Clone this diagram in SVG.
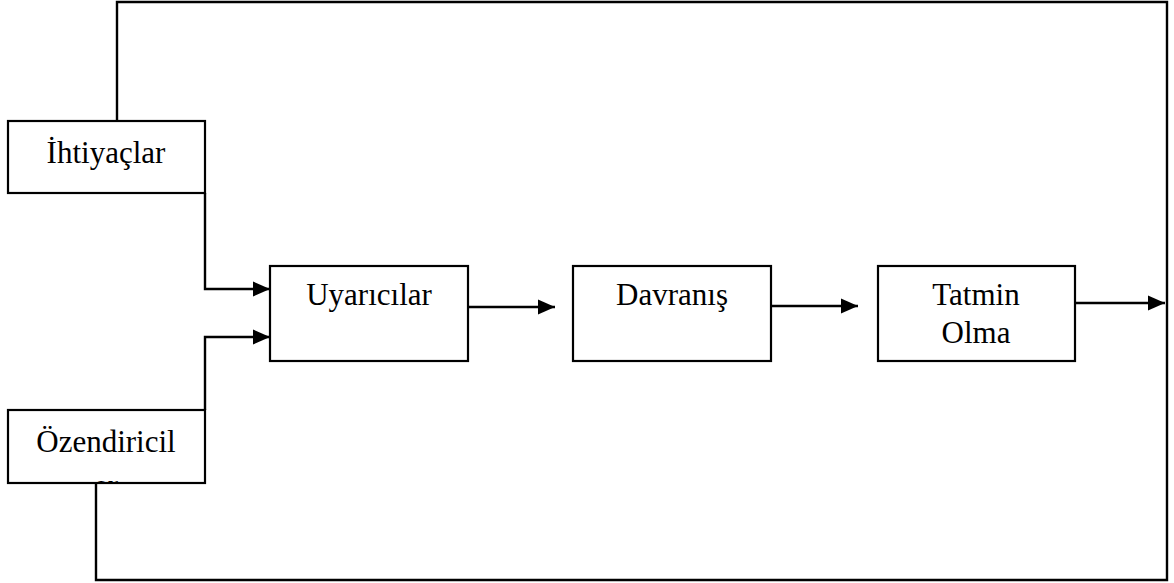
<svg xmlns="http://www.w3.org/2000/svg" width="1174" height="583" viewBox="0 0 1174 583">
<style>
.box{fill:#fff;stroke:#000;stroke-width:2.2}
.ln{fill:none;stroke:#000;stroke-width:2.4}
.t{font-family:"Liberation Serif","Times New Roman",serif;font-size:31px;fill:#000;text-anchor:middle}
</style>
<defs>
<marker id="ah" markerUnits="userSpaceOnUse" markerWidth="17" markerHeight="16" viewBox="0 0 17 16" refX="17" refY="8" orient="auto">
<path d="M0,0.5 L17,8 L0,15.5 Z" fill="#000"/>
</marker>
<clipPath id="oc"><rect x="9" y="411" width="195" height="71"/></clipPath>
</defs>
<rect width="1174" height="583" fill="#fff"/>
<g id="connectors">
<polyline class="ln" points="117,121 117,2 1167,2 1167,580 96,580 96,483"/>
<polyline class="ln" points="205,193 205,289 270,289" marker-end="url(#ah)"/>
<polyline class="ln" points="205,410 205,337 270,337" marker-end="url(#ah)"/>
<line class="ln" x1="468" y1="307" x2="555" y2="307" marker-end="url(#ah)"/>
<line class="ln" x1="771" y1="306" x2="858" y2="306" marker-end="url(#ah)"/>
<line class="ln" x1="1075" y1="303" x2="1165" y2="303" marker-end="url(#ah)"/>
</g>
<g id="ihtiyaclar">
<rect class="box" x="8" y="121" width="197" height="72"/>
<text class="t" x="106" y="163">İhtiyaçlar</text>
</g>
<g id="ozendiriciler">
<rect class="box" x="8" y="410" width="197" height="73"/>
<text class="t" x="106" y="452">Özendiricil</text>
<text class="t" x="106" y="496" clip-path="url(#oc)">er</text>
</g>
<g id="uyaricilar">
<rect class="box" x="270" y="266" width="198" height="95"/>
<text class="t" x="369" y="305">Uyarıcılar</text>
</g>
<g id="davranis">
<rect class="box" x="573" y="266" width="198" height="95"/>
<text class="t" x="672" y="305">Davranış</text>
</g>
<g id="tatmin">
<rect class="box" x="878" y="266" width="197" height="95"/>
<text class="t" x="976" y="305">Tatmin</text>
<text class="t" x="976" y="343">Olma</text>
</g>
</svg>
